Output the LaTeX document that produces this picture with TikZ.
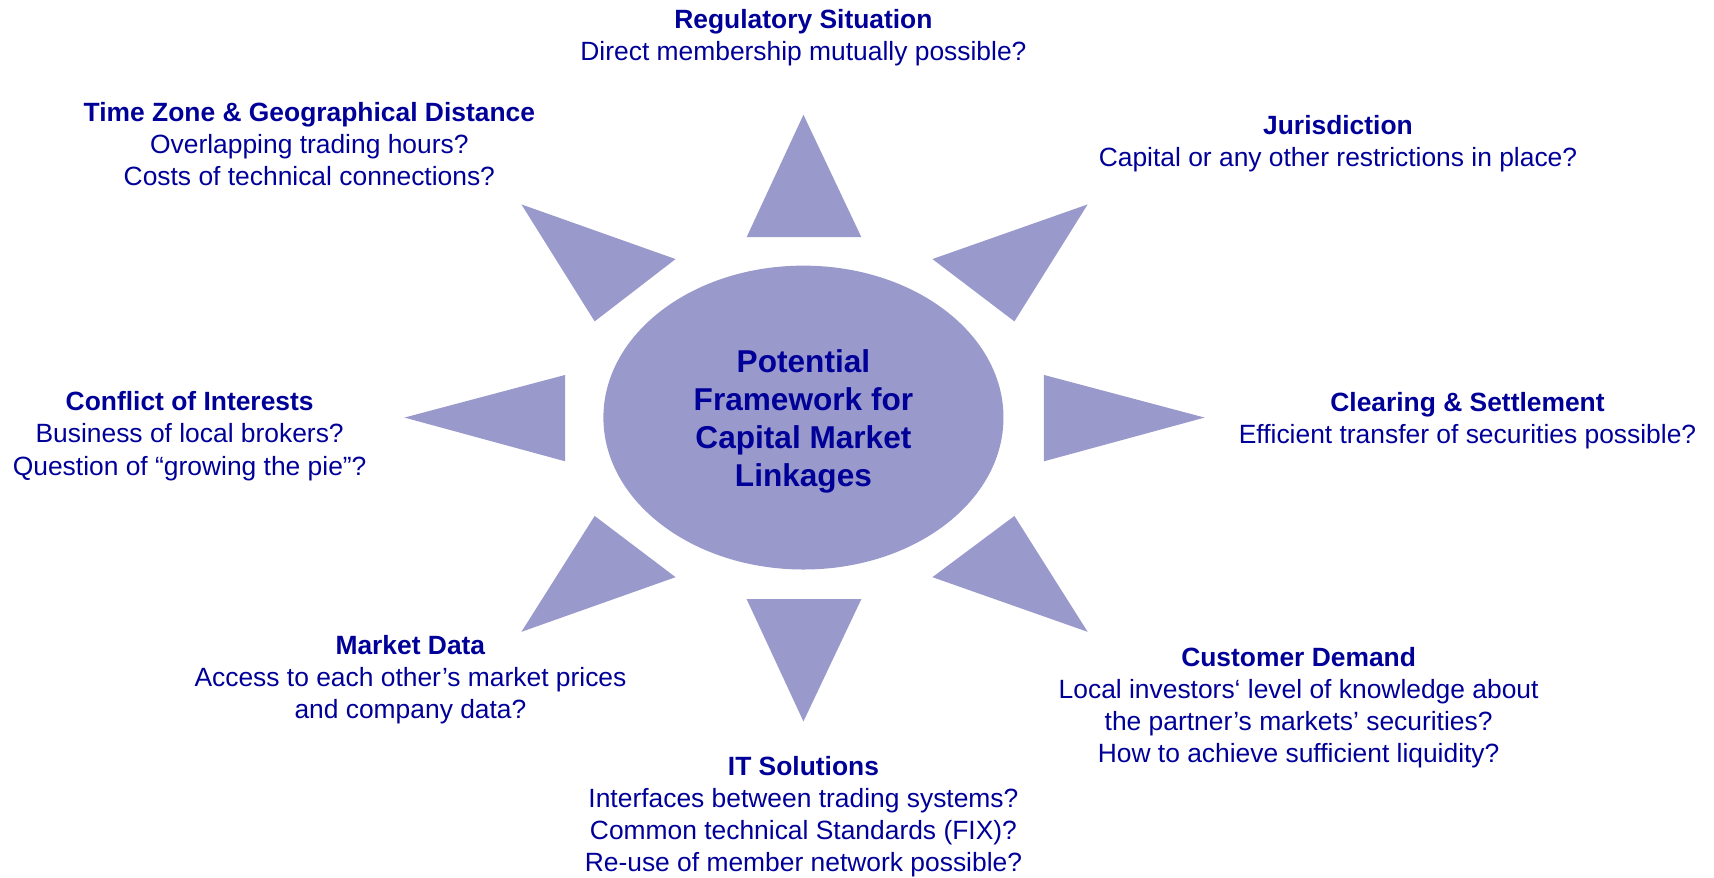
\documentclass[tikz,border=0pt]{standalone}
\usepackage{fontspec}
\setmainfont{Liberation Sans}
\usetikzlibrary{shapes.geometric}
\definecolor{txtblue}{HTML}{000099}
\definecolor{sunfill}{HTML}{9999CC}
\begin{document}
\begin{tikzpicture}[x=1pt,y=-1pt,
  ray/.style={fill=sunfill,draw=none},
  lbl/.style={text=txtblue,align=center,inner sep=0pt,font=\fontsize{24.15}{29.3}\selectfont},
  hubtext/.style={text=txtblue,align=center,inner sep=0pt,font=\bfseries\fontsize{28.9}{35}\selectfont}
]
\useasboundingbox (0,0) rectangle (1568,803);
% hub
\node[ellipse,fill=sunfill,draw=none,minimum width=366pt,minimum height=278pt,inner sep=0pt] (hub) at (735,382) {};
\node[hubtext] (hubt) at (735,385.5) {Potential\\Framework for\\Capital Market\\Linkages};
% rays
\fill[ray] (735,105) -- (788,217) -- (683,217) -- cycle;
\fill[ray] (735,660) -- (683,548) -- (788,548) -- cycle;
\fill[ray] (370,382) -- (517,343) -- (517,422) -- cycle;
\fill[ray] (1102,382) -- (955,343) -- (955,422) -- cycle;
\fill[ray] (477,187) -- (618,237) -- (544,294) -- cycle;
\fill[ray] (995,187) -- (853,237) -- (928,294) -- cycle;
\fill[ray] (477,578) -- (544,472) -- (618,528) -- cycle;
\fill[ray] (995,578) -- (928,472) -- (853,528) -- cycle;
% labels
\node[lbl] (reg) at (735,34.5) {\textbf{Regulatory Situation}\\Direct membership mutually possible?};
\node[lbl] (time) at (283,132) {\textbf{Time Zone \& Geographical Distance}\\Overlapping trading hours?\\Costs of technical connections?};
\node[lbl] (jur) at (1224,131.5) {\textbf{Jurisdiction}\\Capital or any other restrictions in place?};
\node[lbl] (conf) at (173.5,399) {\textbf{Conflict of Interests}\\Business of local brokers?\\Question of “growing the pie”?};
\node[lbl] (clear) at (1342.5,385) {\textbf{Clearing \& Settlement}\\Efficient transfer of securities possible?};
\node[lbl] (mkt) at (375.5,622) {\textbf{Market Data}\\Access to each other’s market prices\\and company data?};
\node[lbl] (cust) at (1188,647) {\textbf{Customer Demand}\\Local investors‘ level of knowledge about\\the partner’s markets’ securities?\\How to achieve sufficient liquidity?};
\node[lbl] (its) at (735,747.5) {\textbf{IT Solutions}\\Interfaces between trading systems?\\Common technical Standards (FIX)?\\Re-use of member network possible?};
\end{tikzpicture}
\end{document}
